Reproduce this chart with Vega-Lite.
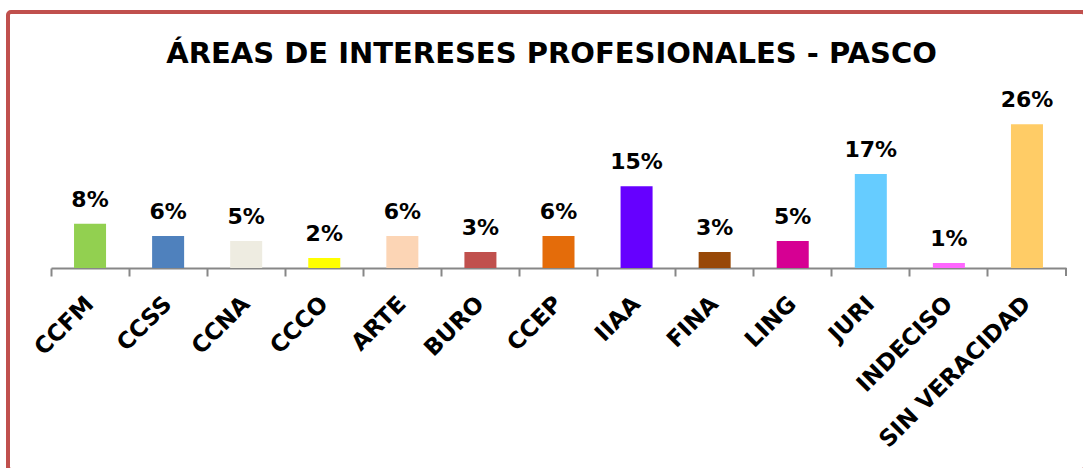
{
  "$schema": "https://vega.github.io/schema/vega-lite/v6.json",
  "width": 1077,
  "height": 458,
  "autosize": {"type": "none"},
  "padding": {"left": 8, "top": 12, "right": -2, "bottom": -2},
  "background": "white",
  "config": {
    "view": {"stroke": "#C0504D", "strokeWidth": 4, "cornerRadius": 3},
    "font": "DejaVu Sans"
  },
  "title": {
    "text": "ÁREAS DE INTERESES PROFESIONALES - PASCO",
    "font": "DejaVu Sans",
    "fontSize": 29,
    "fontWeight": "bold",
    "color": "#000000",
    "anchor": "middle",
    "frame": "group",
    "offset": -57,
    "dx": 5
  },
  "data": {
    "values": [
      {"area": "CCFM", "value": 0.080},
      {"area": "CCSS", "value": 0.058},
      {"area": "CCNA", "value": 0.049},
      {"area": "CCCO", "value": 0.018},
      {"area": "ARTE", "value": 0.058},
      {"area": "BURO", "value": 0.029},
      {"area": "CCEP", "value": 0.058},
      {"area": "IIAA", "value": 0.148},
      {"area": "FINA", "value": 0.029},
      {"area": "LING", "value": 0.049},
      {"area": "JURI", "value": 0.170},
      {"area": "INDECISO", "value": 0.009},
      {"area": "SIN VERACIDAD", "value": 0.260}
    ]
  },
  "encoding": {
    "x": {
      "field": "area",
      "type": "nominal",
      "sort": null,
      "scale": {"range": [43, 1058], "paddingInner": 0, "paddingOuter": 0},
      "axis": {
        "title": null,
        "offset": -202,
        "bandPosition": 0,
        "domainColor": "#878787",
        "domainWidth": 2,
        "tickColor": "#878787",
        "tickWidth": 2,
        "tickSize": 8,
        "labelAngle": -45,
        "labelAlign": "right",
        "labelBaseline": "middle",
        "labelPadding": 24,
        "labelDx": 9,
        "labelFont": "DejaVu Sans",
        "labelFontSize": 23,
        "labelFontWeight": "bold",
        "labelColor": "#000000",
        "labelLimit": 0,
        "labelOverlap": false,
        "labelBound": false
      }
    },
    "y": {
      "field": "value",
      "type": "quantitative",
      "scale": {"domain": [0, 0.4629], "range": [256, 0], "nice": false, "zero": false},
      "axis": null
    }
  },
  "layer": [
    {
      "mark": {"type": "bar", "width": {"band": 0.41}},
      "encoding": {
        "color": {
          "field": "area",
          "type": "nominal",
          "legend": null,
          "scale": {
            "domain": ["CCFM", "CCSS", "CCNA", "CCCO", "ARTE", "BURO", "CCEP", "IIAA", "FINA", "LING", "JURI", "INDECISO", "SIN VERACIDAD"],
            "range": ["#92D050", "#4F81BD", "#EEECE1", "#FFFF00", "#FCD5B5", "#C0504D", "#E46C0A", "#6600FF", "#984807", "#D60093", "#66CCFF", "#FF66FF", "#FFCC66"]
          }
        }
      }
    },
    {
      "mark": {
        "type": "text",
        "font": "DejaVu Sans",
        "fontSize": 22,
        "fontWeight": "bold",
        "color": "#000000",
        "baseline": "alphabetic",
        "align": "center",
        "dy": -17
      },
      "encoding": {
        "text": {"field": "value", "type": "quantitative", "format": ".0%"}
      }
    },
    {
      "transform": [{"filter": "datum.area === 'SIN VERACIDAD'"}],
      "mark": {"type": "rule", "color": "#878787", "strokeWidth": 2},
      "encoding": {
        "x": {"field": "area", "type": "nominal", "sort": null, "bandPosition": 1},
        "y": {"datum": 0},
        "y2": {"datum": -0.0145}
      }
    }
  ]
}
